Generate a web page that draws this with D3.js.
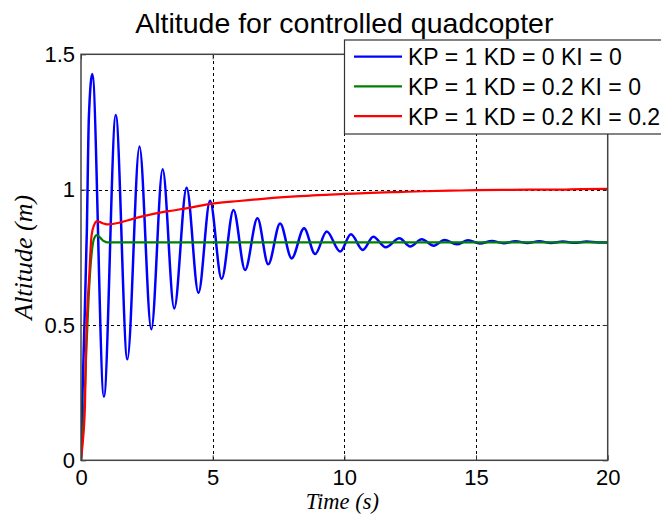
<!DOCTYPE html>
<html>
<head>
<meta charset="utf-8">
<script src="https://cdn.jsdelivr.net/npm/d3@7"></script>
<style>
  body { margin: 0; background: #fff; }
  svg { display: block; }
  .tick text { font-family: "Liberation Sans", Arial, sans-serif; font-size: 22px; fill: #000; }
  .grid line { stroke: #000; stroke-dasharray: 3,3; stroke-width: 1; shape-rendering: crispEdges; }
  .grid path { display: none; }
</style>
</head>
<body>
<div id="chart-area-line"></div>
<script>
// values
var chartTitle = "Altitude for controlled quadcopter";
var xLabel = "Time (s)";
var yLabel = "Altitude (m)";
var legendNames = ["KP = 1 KD = 0 KI = 0", "KP = 1 KD = 0.2 KI = 0", "KP = 1 KD = 0.2 KI = 0.2"];
var lineColors = ["#0000ff", "#008000", "#ff0000"];
var xTicks = [0, 5, 10, 15, 20];
var yTicks = [0, 0.5, 1, 1.5];
var yTickLabels = ["0", "0.5", "1", "1.5"];

// [time, altitude] - KD = 0 (peaks and troughs of the oscillation)
var blueSeries = [
  [0, 0], [0.05, 0.22], [0.13, 0.5], [0.22, 0.84], [0.3, 1.27], [0.43, 1.427],
  [0.87, 0.235], [1.32, 1.276], [1.76, 0.373], [2.22, 1.159], [2.67, 0.484],
  [3.10, 1.075], [3.54, 0.561], [4.01, 1.007], [4.46, 0.619], [4.90, 0.959],
  [5.34, 0.670], [5.79, 0.925], [6.23, 0.703], [6.70, 0.894], [7.11, 0.724],
  [7.56, 0.875], [8.00, 0.746], [8.47, 0.857], [8.89, 0.762], [9.33, 0.845],
  [9.84, 0.771], [10.25, 0.835], [10.70, 0.777], [11.10, 0.826], [11.57, 0.787],
  [12.09, 0.820], [12.50, 0.790], [12.94, 0.817], [13.40, 0.793], [13.80, 0.814],
  [14.27, 0.798], [14.70, 0.813], [15.15, 0.801], [15.60, 0.810], [16.05, 0.802],
  [16.50, 0.809], [16.95, 0.803], [17.40, 0.809], [17.85, 0.803], [18.30, 0.808],
  [18.75, 0.804], [19.20, 0.808], [19.65, 0.805], [20, 0.805]
];

// KD = 0.2, KI = 0
var greenSeries = [
  [0, 0], [0.1, 0.15], [0.2, 0.4], [0.3, 0.62], [0.4, 0.76], [0.5, 0.82],
  [0.6, 0.832], [0.7, 0.826], [0.8, 0.815], [0.9, 0.808], [1.0, 0.805], [20, 0.805]
];

// KD = 0.2, KI = 0.2
var redSeries = [
  [0, 0], [0.05, 0.05], [0.15, 0.2], [0.2, 0.45], [0.25, 0.58], [0.3, 0.66],
  [0.4, 0.83], [0.5, 0.87], [0.6, 0.883], [0.7, 0.881], [0.85, 0.875], [1.0, 0.872],
  [1.2, 0.873], [1.5, 0.879], [2, 0.893], [2.5, 0.905], [3, 0.915], [3.5, 0.923],
  [4, 0.931], [4.5, 0.94], [5, 0.948], [6, 0.958], [7, 0.967], [8, 0.974],
  [9, 0.980], [10, 0.984], [11, 0.988], [12, 0.991], [13, 0.994], [14, 0.996],
  [15, 0.998], [16, 0.999], [17, 1.0], [18, 1.0], [19, 1.002], [20, 1.003]
];

LineChart = function (_parentElement, _data) {
  this.parentElement = _parentElement;
  this.data = _data;
  this.initVis();
};

LineChart.prototype.initVis = function () {
  var vis = this;

  vis.margin = { left: 81, right: 53.3, top: 54.3, bottom: 53.7 };
  vis.width = 661 - vis.margin.left - vis.margin.right;
  vis.height = 514 - vis.margin.top - vis.margin.bottom;

  vis.root = d3.select(vis.parentElement)
    .append("svg")
    .attr("width", 661)
    .attr("height", 514);

  vis.svg = vis.root.append("g")
    .attr("transform", "translate(" + vis.margin.left + ", " + vis.margin.top + ")");

  vis.xScale = d3.scaleLinear().domain([0, 20]).range([0, vis.width]);
  vis.yScale = d3.scaleLinear().domain([0, 1.5]).range([vis.height, 0]);

  // dashed grid
  vis.svg.append("g")
    .attr("class", "grid")
    .attr("transform", `translate(0, ${vis.height})`)
    .call(d3.axisBottom(vis.xScale).tickValues(xTicks.slice(1, -1)).tickSize(-vis.height).tickFormat(""));

  vis.svg.append("g")
    .attr("class", "grid")
    .call(d3.axisLeft(vis.yScale).tickValues(yTicks.slice(1, -1)).tickSize(-vis.width).tickFormat(""));

  vis.wrangleData();
};

LineChart.prototype.wrangleData = function () {
  var vis = this;
  vis.updateVis();
};

LineChart.prototype.updateVis = function () {
  var vis = this;

  vis.line = d3.line()
    .x(d => vis.xScale(d[0]))
    .y(d => vis.yScale(d[1]))
    .curve(d3.curveMonotoneX);

  vis.svg.append("defs").append("clipPath")
    .attr("id", "plot-clip")
    .append("rect")
    .attr("width", vis.width)
    .attr("height", vis.height);

  vis.svg.append("g")
    .attr("clip-path", "url(#plot-clip)")
    .selectAll("path.line")
    .data(vis.data).enter()
    .append("path")
    .attr("class", "line")
    .attr("d", d => vis.line(d))
    .style("fill", "none")
    .style("stroke", (d, i) => lineColors[i])
    .style("stroke-width", (d, i) => i == 0 ? 2.5 : 2.2)
    .style("stroke-linejoin", "round");

  // axes with inward ticks on all four sides
  vis.xAxis = d3.axisBottom(vis.xScale).tickValues(xTicks).tickSizeInner(-5).tickSizeOuter(0).tickPadding(9);
  vis.yAxis = d3.axisLeft(vis.yScale).tickValues(yTicks).tickSizeInner(-5).tickSizeOuter(0).tickPadding(6)
    .tickFormat((v, i) => yTickLabels[i]);

  vis.xAxisGroup = vis.svg.append("g")
    .attr("class", "x-axis")
    .attr("transform", `translate(0, ${vis.height})`)
    .call(vis.xAxis);

  vis.yAxisGroup = vis.svg.append("g")
    .attr("class", "y-axis")
    .call(vis.yAxis);

  vis.svg.append("g")
    .call(d3.axisTop(vis.xScale).tickValues(xTicks).tickSizeInner(-5).tickSizeOuter(0).tickFormat(""));

  vis.svg.append("g")
    .attr("transform", `translate(${vis.width}, 0)`)
    .call(d3.axisRight(vis.yScale).tickValues(yTicks).tickSizeInner(-5).tickSizeOuter(0).tickFormat(""));

  vis.svg.selectAll(".domain").remove();
  vis.svg.selectAll(".tick line").filter(function () { return !this.parentNode.parentNode.classList.contains("grid"); })
    .style("stroke", "#333");

  vis.svg.append("rect")
    .attr("width", vis.width)
    .attr("height", vis.height)
    .style("fill", "none")
    .style("stroke", "#444")
    .style("stroke-width", 1.5);

  vis.yAxisGroup.selectAll("text").attr("x", -6);

  // title and axis labels
  vis.root.append("text")
    .attr("x", vis.margin.left + vis.width / 2)
    .attr("y", 33)
    .attr("text-anchor", "middle")
    .style("font-family", "'Liberation Sans', Arial, sans-serif")
    .style("font-size", "28.5px")
    .text(chartTitle);

  vis.root.append("text")
    .attr("x", vis.margin.left + vis.width / 2 - 2)
    .attr("y", 509)
    .attr("text-anchor", "middle")
    .style("font-family", "'Liberation Serif', 'Times New Roman', serif")
    .style("font-style", "italic")
    .style("font-size", "22.5px")
    .text(xLabel);

  vis.root.append("text")
    .attr("x", -(vis.margin.top + vis.height / 2))
    .attr("y", 32)
    .attr("text-anchor", "middle")
    .attr("transform", "rotate(-90)")
    .style("font-family", "'Liberation Serif', 'Times New Roman', serif")
    .style("font-style", "italic")
    .style("font-size", "26px")
    .text(yLabel);

  // legend box, runs past the right edge of the figure
  vis.legend = vis.root.append("g").attr("class", "legend");

  vis.legend.append("rect")
    .attr("x", 344.5)
    .attr("y", 40)
    .attr("width", 330)
    .attr("height", 94)
    .style("fill", "#fff")
    .style("stroke", "#333")
    .style("stroke-width", 1.2);

  vis.legendRows = vis.legend.selectAll("g.row")
    .data(legendNames).enter()
    .append("g")
    .attr("class", "row")
    .attr("transform", (d, i) => `translate(0, ${56.7 + i * 29.7})`);

  vis.legendRows.append("line")
    .attr("x1", 354)
    .attr("x2", 402)
    .style("stroke", (d, i) => lineColors[i])
    .style("stroke-width", 2.2);

  vis.legendRows.append("text")
    .attr("x", 408)
    .attr("y", 8.5)
    .style("font-family", "'Liberation Sans', Arial, sans-serif")
    .style("font-size", "23px")
    .text(d => d);
};

var chart = new LineChart("#chart-area-line", [blueSeries, greenSeries, redSeries]);
</script>
</body>
</html>
